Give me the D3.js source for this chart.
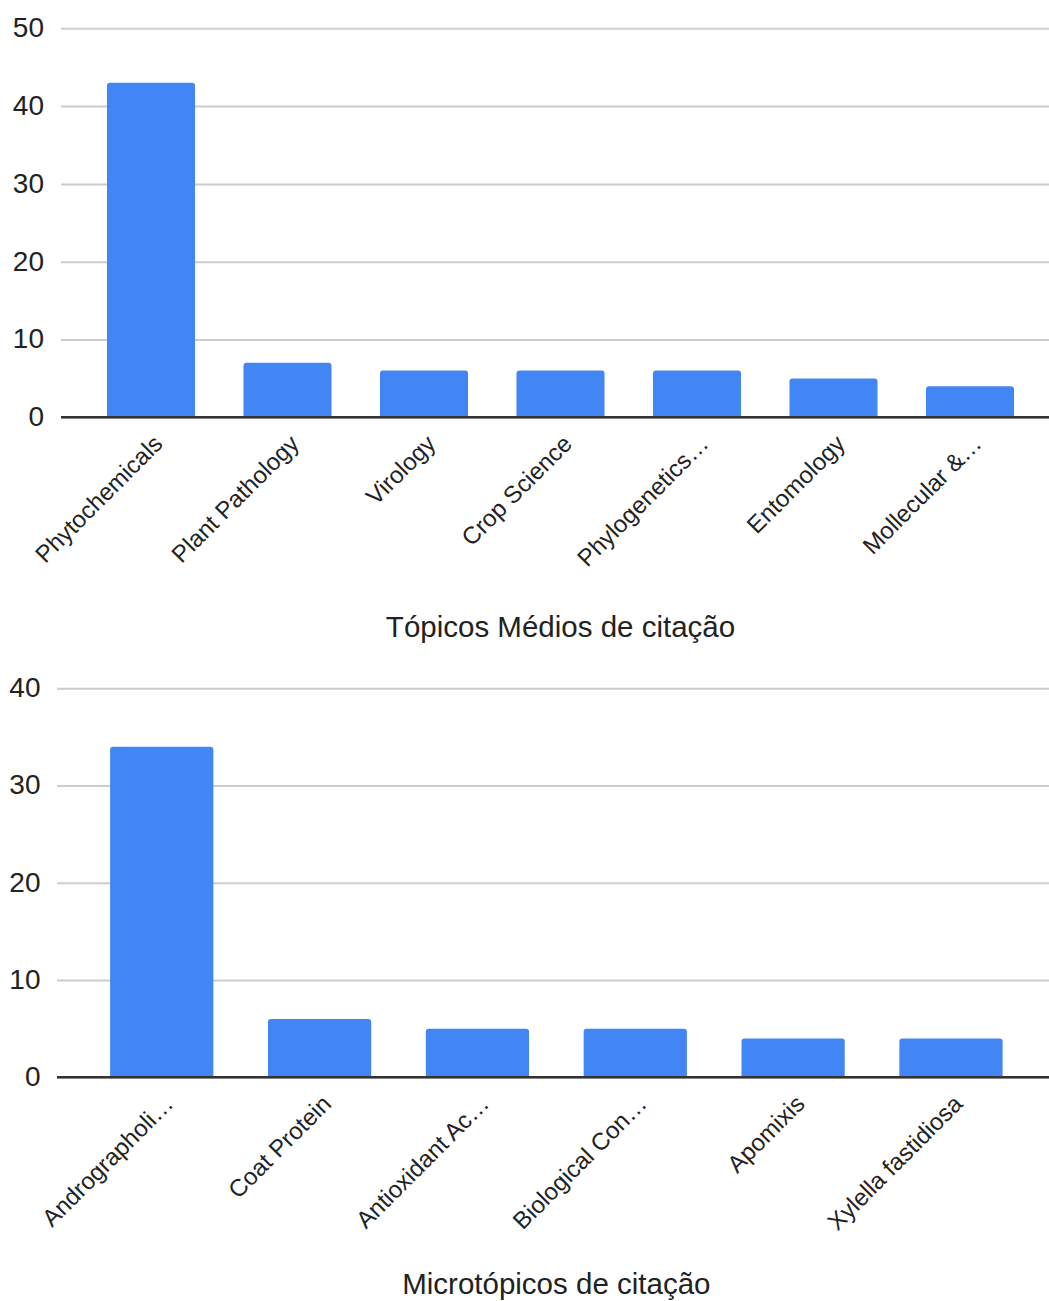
<!DOCTYPE html>
<html>
<head>
<meta charset="utf-8">
<script src="https://cdn.jsdelivr.net/npm/d3@7"></script>
<style>
  html, body { margin: 0; padding: 0; background: #ffffff; }
  svg { display: block; font-family: "Liberation Sans", Arial, sans-serif; }
</style>
</head>
<body>
<svg id="chart" width="1049" height="1301"></svg>
<script>
// Average-citation topics (upper chart)
const topCategories = ["Phytochemicals", "Plant Pathology", "Virology", "Crop Science", "Phylogenetics…", "Entomology", "Mollecular &…"];
const topValues = [43, 7, 6, 6, 6, 5, 4];
const topTicks = [0, 10, 20, 30, 40, 50];
const topTitle = "Tópicos Médios de citação";

// Citation micro-topics (lower chart)
const bottomCategories = ["Andrographoli…", "Coat Protein", "Antioxidant Ac…", "Biological Con…", "Apomixis", "Xylella fastidiosa"];
const bottomValues = [34, 6, 5, 5, 4, 4];
const bottomTicks = [0, 10, 20, 30, 40];
const bottomTitle = "Microtópicos de citação";

const BAR_COLOR = "#4285f4";
const GRID_COLOR = "#cccccc";
const AXIS_COLOR = "#333333";
const TEXT_COLOR = "#222222";

const svg = d3.select("#chart");

// Bar outline with only the top corners rounded
function barPath(x, y, w, h, r) {
  r = Math.min(r, h, w / 2);
  return `M${x},${y + h}V${y + r}Q${x},${y} ${x + r},${y}H${x + w - r}Q${x + w},${y} ${x + w},${y + r}V${y + h}Z`;
}

function drawChart(opts) {
  const { categories, values, ticks, title, yTop, yZero, gridLeft, labelRight,
          bandLeft, bandRight, padInner } = opts;
  const g = svg.append("g");

  const y = d3.scaleLinear().domain([0, d3.max(ticks)]).range([yZero, yTop]);
  const x = d3.scaleBand().domain(categories).range([bandLeft, bandRight])
    .paddingInner(padInner).paddingOuter(padInner / 2);

  // Horizontal gridlines and value labels
  const yAxis = d3.axisLeft(y).tickValues(ticks).tickSize(-(1049 - gridLeft)).tickPadding(0);
  const ag = g.append("g").attr("transform", `translate(${gridLeft},0)`).call(yAxis);
  ag.select(".domain").remove();
  ag.selectAll(".tick line").attr("stroke", GRID_COLOR).attr("stroke-width", 2);
  ag.selectAll(".tick text")
    .attr("x", labelRight - gridLeft)
    .attr("dy", "0.3em")
    .attr("fill", TEXT_COLOR)
    .style("font-size", "28px")
    .style("font-family", "'Liberation Sans', Arial, sans-serif");

  // Bars
  g.append("g").selectAll("path").data(values).join("path")
    .attr("fill", BAR_COLOR)
    .attr("d", (d, i) => {
      const bx = x(categories[i]);
      const top = y(d);
      return barPath(bx, top, x.bandwidth(), y(0) - top, 3);
    });

  // Baseline
  g.append("line")
    .attr("x1", gridLeft).attr("x2", 1049)
    .attr("y1", y(0)).attr("y2", y(0))
    .attr("stroke", AXIS_COLOR).attr("stroke-width", 2.5);

  // Slanted category labels
  g.append("g").selectAll("text").data(categories).join("text")
    .attr("transform", d => `translate(${x(d) + x.bandwidth() / 2 + 13},${y(0) + 28}) rotate(-45)`)
    .attr("text-anchor", "end")
    .attr("fill", TEXT_COLOR)
    .style("font-size", "24px")
    .text(d => d);

  // Axis title
  g.append("text")
    .attr("x", (bandLeft + bandRight) / 2)
    .attr("y", opts.titleY)
    .attr("text-anchor", "middle")
    .attr("fill", TEXT_COLOR)
    .style("font-size", "29.5px")
    .text(title);
}

drawChart({
  categories: topCategories, values: topValues, ticks: topTicks, title: topTitle,
  yTop: 28.3, yZero: 417.3, gridLeft: 61, labelRight: 44,
  bandLeft: 82.75, bandRight: 1038.25, padInner: 0.355, titleY: 636.5
});

drawChart({
  categories: bottomCategories, values: bottomValues, ticks: bottomTicks, title: bottomTitle,
  yTop: 688.3, yZero: 1077.3, gridLeft: 57, labelRight: 40.5,
  bandLeft: 82.8, bandRight: 1029.9, padInner: 0.346, titleY: 1294.3
});
</script>
</body>
</html>
